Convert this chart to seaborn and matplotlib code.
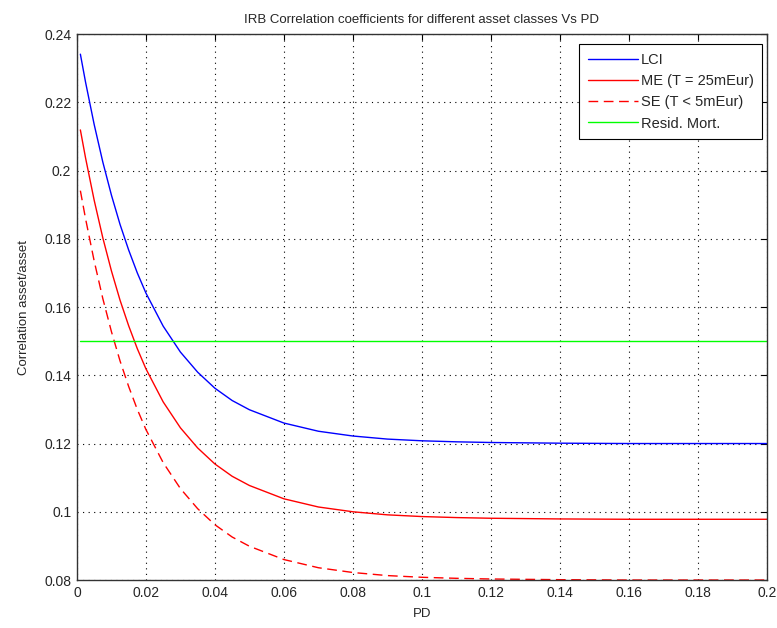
import matplotlib
matplotlib.use("Agg")
import matplotlib.pyplot as plt
import seaborn as sns

# PD grid and correlation values
pd_vals = [0.001, 0.0025, 0.005, 0.0075, 0.01, 0.0125, 0.015, 0.0175, 0.02, 0.025,
           0.03, 0.035, 0.04, 0.045, 0.05, 0.06, 0.07, 0.08, 0.09, 0.1,
           0.11, 0.12, 0.14, 0.16, 0.18, 0.2]
lci = [0.2341, 0.2259, 0.2135, 0.2025, 0.1928, 0.1842, 0.1767, 0.1700, 0.1641, 0.1544,
       0.1468, 0.1409, 0.1362, 0.1326, 0.1299, 0.1260, 0.1236, 0.1222, 0.1213, 0.1208,
       0.1205, 0.1203, 0.1201, 0.1200, 0.1200, 0.1200]
me = [0.2119, 0.2037, 0.1913, 0.1803, 0.1706, 0.1620, 0.1545, 0.1478, 0.1419, 0.1322,
      0.1246, 0.1187, 0.1140, 0.1104, 0.1077, 0.1038, 0.1014, 0.1000, 0.0991, 0.0986,
      0.0983, 0.0981, 0.0979, 0.0978, 0.0978, 0.0978]
se = [0.1941, 0.1859, 0.1735, 0.1625, 0.1528, 0.1442, 0.1367, 0.1300, 0.1241, 0.1144,
      0.1068, 0.1009, 0.0962, 0.0926, 0.0899, 0.0860, 0.0836, 0.0822, 0.0813, 0.0808,
      0.0805, 0.0803, 0.0801, 0.0800, 0.0800, 0.0800]
resid = [0.15] * len(pd_vals)

labels = ["LCI", "ME (T = 25mEur)", "SE (T < 5mEur)", "Resid. Mort."]
x_ticks = [0, 0.02, 0.04, 0.06, 0.08, 0.1, 0.12, 0.14, 0.16, 0.18, 0.2]
x_tick_labels = ["0", "0.02", "0.04", "0.06", "0.08", "0.1", "0.12", "0.14", "0.16", "0.18", "0.2"]
y_ticks = [0.08, 0.1, 0.12, 0.14, 0.16, 0.18, 0.2, 0.22, 0.24]
y_tick_labels = ["0.08", "0.1", "0.12", "0.14", "0.16", "0.18", "0.2", "0.22", "0.24"]

sns.set_style("white")
plt.rcParams["font.family"] = ["Liberation Sans", "DejaVu Sans"]

fig = plt.figure(figsize=(7.77, 6.28), dpi=100)
ax = fig.add_axes([0.099, 0.0764, 0.888, 0.8694])

sns.lineplot(x=pd_vals, y=lci, ax=ax, color="#0000ff", linewidth=1.0, label=labels[0])
sns.lineplot(x=pd_vals, y=me, ax=ax, color="#ff0000", linewidth=1.0, label=labels[1])
sns.lineplot(x=pd_vals, y=se, ax=ax, color="#ff0000", linewidth=1.0, label=labels[2])
sns.lineplot(x=pd_vals, y=resid, ax=ax, color="#00ff00", linewidth=1.0, label=labels[3])
ax.lines[2].set_dashes((7, 4))

ax.set_xlim(0, 0.2)
ax.set_ylim(0.08, 0.24)
ax.set_xticks(x_ticks)
ax.set_xticklabels(x_tick_labels)
ax.set_yticks(y_ticks)
ax.set_yticklabels(y_tick_labels)
ax.tick_params(direction="in", length=4, width=0.8, labelsize=10, color="black",
               top=True, right=True, pad=4)

ax.grid(True, linestyle=(0, (1, 4)), color="black", linewidth=0.8)
for s in ax.spines.values():
    s.set_visible(True)
    s.set_color("#333333")
    s.set_linewidth(1.0)

ax.set_title("IRB Correlation coefficients for different asset classes Vs PD",
             fontsize=9.5, pad=8)
ax.set_xlabel("PD", fontsize=9.5, labelpad=6)
ax.set_ylabel("Correlation asset/asset", fontsize=9.5, labelpad=10)

leg = ax.legend(loc="upper right", bbox_to_anchor=(0.981, 0.93),
                bbox_transform=fig.transFigure, borderaxespad=0,
                fontsize=10.5, handlelength=3.4, handletextpad=0.2,
                borderpad=0.6, fancybox=False, framealpha=1, edgecolor="black",
                labelspacing=0.5)
leg.get_frame().set_linewidth(0.8)

fig.savefig("out.png", dpi=100)
